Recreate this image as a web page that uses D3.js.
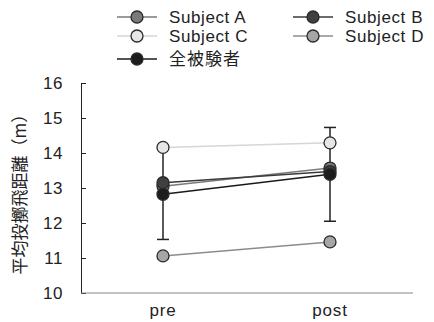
<!DOCTYPE html>
<html>
<head>
<meta charset="utf-8">
<script src="https://cdn.jsdelivr.net/npm/d3@7"></script>
<style>
body { margin: 0; background: #fff; }
text { font-family: "Liberation Sans", Arial, sans-serif; }
</style>
</head>
<body>
<script>
var w = 434;
var h = 322;

// data
var phases = ["pre", "post"];
var subjects = ["Subject A", "Subject B", "Subject C", "Subject D", "全被験者"];
var valuesA = [13.05, 13.57];
var valuesB = [13.15, 13.47];
var valuesC = [14.16, 14.29];
var valuesD = [11.06, 11.46];
var meanValues = [12.82, 13.39];
var meanSD = [1.29, 1.34];
var yTicks = [10, 11, 12, 13, 14, 15, 16];

var lineColors = ["#7a7a7a", "#3a3a3a", "#d6d6d6", "#8c8c8c", "#1a1a1a"];
var fillColors = ["#7a7a7a", "#404040", "#e6e6e6", "#a6a6a6", "#1c1c1c"];

var series = [valuesA, valuesB, valuesC, valuesD, meanValues];

var svg = d3.select("body").append("svg")
    .attr("width", w)
    .attr("height", h);

var xScale = d3.scalePoint()
    .domain(phases)
    .range([163, 330]);

var yScale = d3.scaleLinear()
    .domain([10, 16])
    .range([293, 83]);

// axes
var yaxis = d3.axisLeft(yScale)
    .tickValues(yTicks)
    .tickFormat(d3.format("d"))
    .tickSizeInner(-5)
    .tickSizeOuter(0)
    .tickPadding(18);

var yg = svg.append("g")
    .attr("transform", "translate(81,0)")
    .call(yaxis);
yg.select(".domain").attr("stroke", "#222");
yg.selectAll(".tick line").attr("stroke", "#222");
yg.selectAll("text")
    .attr("font-size", "17px")
    .attr("fill", "#222")
    .style("font-family", "'Liberation Sans', Arial, sans-serif")
    .attr("letter-spacing", "0.5px");

svg.append("line")
    .attr("x1", 81).attr("x2", 413)
    .attr("y1", yScale(10)).attr("y2", yScale(10))
    .attr("stroke", "#888").attr("stroke-width", 1.2);

svg.selectAll(".xlab")
    .data(phases)
    .enter()
    .append("text")
    .attr("class", "xlab")
    .attr("x", function (d) { return xScale(d); })
    .attr("y", 316)
    .attr("text-anchor", "middle")
    .attr("font-size", "17px")
    .attr("letter-spacing", "0.8px")
    .attr("fill", "#222")
    .text(function (d) { return d; });

// y title
svg.append("text")
    .attr("transform", "translate(26,190) rotate(-90)")
    .attr("text-anchor", "middle")
    .attr("font-size", "17px")
    .attr("fill", "#222")
    .style("font-family", "'Noto Sans CJK JP', sans-serif")
    .text("平均投擲飛距離（m）");

// error bars for mean
var errG = svg.append("g");
phases.forEach(function (p, i) {
    var x = xScale(p);
    var lo = meanValues[i] - meanSD[i];
    var hi = meanValues[i] + meanSD[i];
    errG.append("line")
        .attr("x1", x).attr("x2", x)
        .attr("y1", yScale(lo)).attr("y2", yScale(hi))
        .attr("stroke", "#222").attr("stroke-width", 1.5);
    [lo, hi].forEach(function (v) {
        errG.append("line")
            .attr("x1", x - 6).attr("x2", x + 6)
            .attr("y1", yScale(v)).attr("y2", yScale(v))
            .attr("stroke", "#222").attr("stroke-width", 1.5);
    });
});

var line = d3.line()
    .x(function (d, i) { return xScale(phases[i]); })
    .y(function (d) { return yScale(d); });

// draw order: C, D, A, B, mean
var order = [2, 3, 0, 1, 4];
order.forEach(function (k) {
    svg.append("path")
        .attr("d", line(series[k]))
        .attr("fill", "none")
        .attr("stroke", lineColors[k])
        .attr("stroke-width", 1.5);
});
order.forEach(function (k) {
    svg.selectAll(null)
        .data(series[k])
        .enter()
        .append("circle")
        .attr("cx", function (d, i) { return xScale(phases[i]); })
        .attr("cy", function (d) { return yScale(d); })
        .attr("r", 6)
        .attr("fill", fillColors[k])
        .attr("stroke", "#2a2a2a")
        .attr("stroke-width", 1.3);
});

// legend
var legendPos = [[117, 17], [293, 17], [117, 36], [293, 36], [117, 59]];
legendPos.forEach(function (p, k) {
    var g = svg.append("g").attr("transform", "translate(" + p[0] + "," + p[1] + ")");
    g.append("line")
        .attr("x1", 0).attr("x2", 40)
        .attr("stroke", lineColors[k]).attr("stroke-width", 1.5);
    g.append("circle")
        .attr("cx", 20).attr("r", 6)
        .attr("fill", fillColors[k])
        .attr("stroke", "#2a2a2a").attr("stroke-width", 1.3);
    g.append("text")
        .attr("x", 52).attr("y", 6)
        .attr("font-size", "17px")
        .attr("letter-spacing", k === 4 ? "1px" : "0.6px")
        .attr("fill", "#222")
        .style("font-family", k === 4 ? "'Noto Sans CJK JP', sans-serif" : null)
        .text(subjects[k]);
});
</script>
</body>
</html>
